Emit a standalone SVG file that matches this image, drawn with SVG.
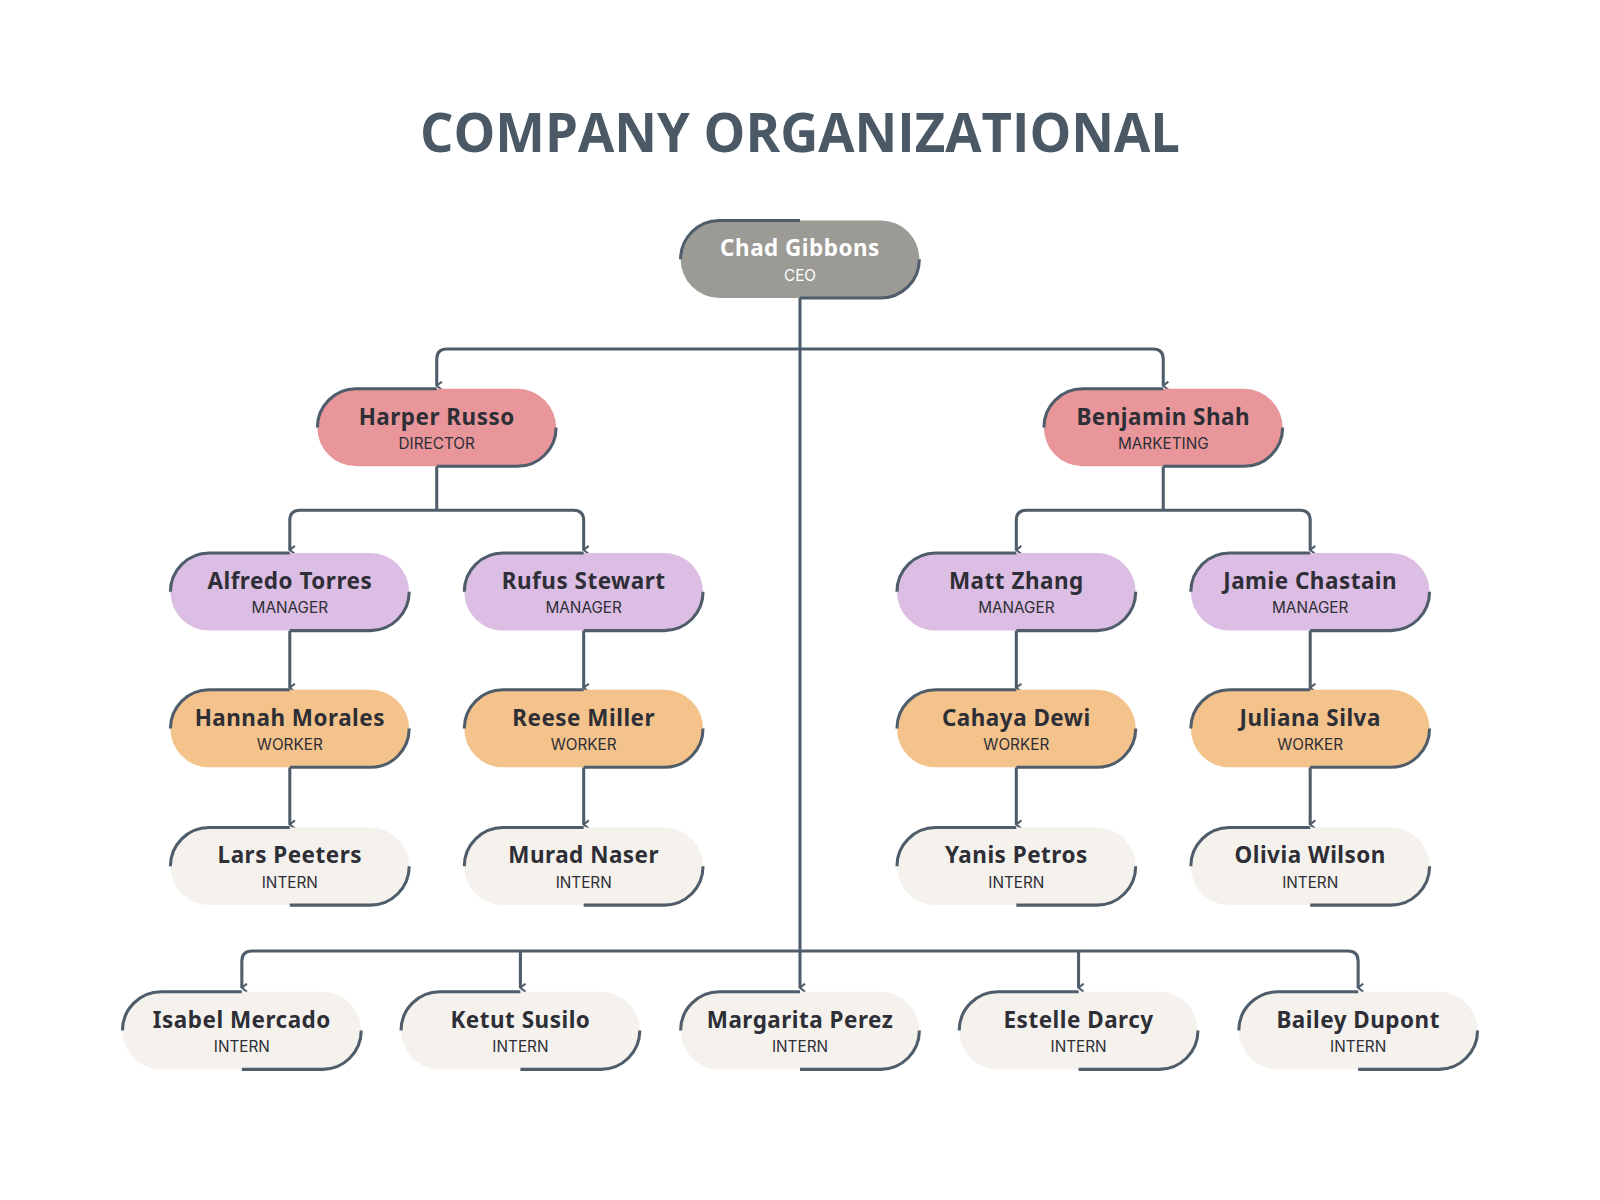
<svg xmlns="http://www.w3.org/2000/svg" width="1600" height="1200" viewBox="0 0 1600 1200">
<style>
.nm{font-family:"Noto Sans",sans-serif;font-weight:700;font-size:22px;fill:#2e2e36;text-anchor:middle;letter-spacing:0.5px}
.rl{font-family:Inter,"Liberation Sans",sans-serif;font-size:15px;fill:#2e2e36;text-anchor:middle}
.ol{fill:none;stroke:#4f5d6b;stroke-width:3}
.cn{fill:none;stroke:#4f5d6b;stroke-width:3;stroke-linejoin:round}
.ceo{fill:#9b9a94}.dir{fill:#e8969a}.mgr{fill:#dcbde3}.wrk{fill:#f4c38c}.int{fill:#f5f2ee}
</style>
<defs>
<marker id="ah" viewBox="0 0 10 10" refX="5" refY="8" markerWidth="10" markerHeight="10" markerUnits="userSpaceOnUse" orient="auto-start-reverse">
<path d="M1,3 L5,8 L9,3" fill="none" stroke="#4f5d6b" stroke-width="2"/>
</marker>
<g id="pill">
<path class="ol" d="M-117,0 A38,38 0 0 1 -79,-38 L0,-38"/>
<path class="ol" d="M0,38 L79,38 A38,38 0 0 0 117,0"/>
</g>
</defs>
<rect width="1600" height="1200" fill="#fff"/>
<g transform="scale(1.0204)">
<text x="784" y="149" font-family="Open Sans,Liberation Sans,sans-serif" font-weight="700" font-size="52" fill="#4b5865" text-anchor="middle" textLength="745" lengthAdjust="spacingAndGlyphs">COMPANY ORGANIZATIONAL</text>
<g id="connectors">
<path class="cn" d="M784,292 V968" marker-end="url(#ah)"/>
<path class="cn" d="M428,378 V352 Q428,342 438,342 H1130 Q1140,342 1140,352 V378" marker-start="url(#ah)" marker-end="url(#ah)"/>
<path class="cn" d="M428,457 V500"/>
<path class="cn" d="M284,539 V510 Q284,500 294,500 H562 Q572,500 572,510 V539" marker-start="url(#ah)" marker-end="url(#ah)"/>
<path class="cn" d="M1140,457 V500"/>
<path class="cn" d="M996,539 V510 Q996,500 1006,500 H1274 Q1284,500 1284,510 V539" marker-start="url(#ah)" marker-end="url(#ah)"/>
<path class="cn" d="M284,618 V674" marker-end="url(#ah)"/>
<path class="cn" d="M572,618 V674" marker-end="url(#ah)"/>
<path class="cn" d="M996,618 V674" marker-end="url(#ah)"/>
<path class="cn" d="M1284,618 V674" marker-end="url(#ah)"/>
<path class="cn" d="M284,752 V808" marker-end="url(#ah)"/>
<path class="cn" d="M572,752 V808" marker-end="url(#ah)"/>
<path class="cn" d="M996,752 V808" marker-end="url(#ah)"/>
<path class="cn" d="M1284,752 V808" marker-end="url(#ah)"/>
<path class="cn" d="M237,968 V942 Q237,932 247,932 H1321 Q1331,932 1331,942 V968" marker-start="url(#ah)" marker-end="url(#ah)"/>
<path class="cn" d="M510,932 V968" marker-end="url(#ah)"/>
<path class="cn" d="M1057,932 V968" marker-end="url(#ah)"/>
</g>
<g id="n-ceo" transform="translate(784,254)"><rect class="ceo" x="-117" y="-38" width="234" height="76" rx="38"/><use href="#pill"/><text class="nm" y="-3" fill="#fff" style="fill:#fff">Chad Gibbons</text><text class="rl" y="21" style="fill:#fff">CEO</text></g>
<g id="n-harper" transform="translate(428,419)"><rect class="dir" x="-117" y="-38" width="234" height="76" rx="38"/><use href="#pill"/><text class="nm" y="-3">Harper Russo</text><text class="rl" y="21">DIRECTOR</text></g>
<g id="n-benjamin" transform="translate(1140,419)"><rect class="dir" x="-117" y="-38" width="234" height="76" rx="38"/><use href="#pill"/><text class="nm" y="-3">Benjamin Shah</text><text class="rl" y="21">MARKETING</text></g>
<g id="n-alfredo" transform="translate(284,580)"><rect class="mgr" x="-117" y="-38" width="234" height="76" rx="38"/><use href="#pill"/><text class="nm" y="-3">Alfredo Torres</text><text class="rl" y="21">MANAGER</text></g>
<g id="n-rufus" transform="translate(572,580)"><rect class="mgr" x="-117" y="-38" width="234" height="76" rx="38"/><use href="#pill"/><text class="nm" y="-3">Rufus Stewart</text><text class="rl" y="21">MANAGER</text></g>
<g id="n-matt" transform="translate(996,580)"><rect class="mgr" x="-117" y="-38" width="234" height="76" rx="38"/><use href="#pill"/><text class="nm" y="-3">Matt Zhang</text><text class="rl" y="21">MANAGER</text></g>
<g id="n-jamie" transform="translate(1284,580)"><rect class="mgr" x="-117" y="-38" width="234" height="76" rx="38"/><use href="#pill"/><text class="nm" y="-3">Jamie Chastain</text><text class="rl" y="21">MANAGER</text></g>
<g id="n-hannah" transform="translate(284,714)"><rect class="wrk" x="-117" y="-38" width="234" height="76" rx="38"/><use href="#pill"/><text class="nm" y="-3">Hannah Morales</text><text class="rl" y="21">WORKER</text></g>
<g id="n-reese" transform="translate(572,714)"><rect class="wrk" x="-117" y="-38" width="234" height="76" rx="38"/><use href="#pill"/><text class="nm" y="-3">Reese Miller</text><text class="rl" y="21">WORKER</text></g>
<g id="n-cahaya" transform="translate(996,714)"><rect class="wrk" x="-117" y="-38" width="234" height="76" rx="38"/><use href="#pill"/><text class="nm" y="-3">Cahaya Dewi</text><text class="rl" y="21">WORKER</text></g>
<g id="n-juliana" transform="translate(1284,714)"><rect class="wrk" x="-117" y="-38" width="234" height="76" rx="38"/><use href="#pill"/><text class="nm" y="-3">Juliana Silva</text><text class="rl" y="21">WORKER</text></g>
<g id="n-lars" transform="translate(284,849)"><rect class="int" x="-117" y="-38" width="234" height="76" rx="38"/><use href="#pill"/><text class="nm" y="-3">Lars Peeters</text><text class="rl" y="21">INTERN</text></g>
<g id="n-murad" transform="translate(572,849)"><rect class="int" x="-117" y="-38" width="234" height="76" rx="38"/><use href="#pill"/><text class="nm" y="-3">Murad Naser</text><text class="rl" y="21">INTERN</text></g>
<g id="n-yanis" transform="translate(996,849)"><rect class="int" x="-117" y="-38" width="234" height="76" rx="38"/><use href="#pill"/><text class="nm" y="-3">Yanis Petros</text><text class="rl" y="21">INTERN</text></g>
<g id="n-olivia" transform="translate(1284,849)"><rect class="int" x="-117" y="-38" width="234" height="76" rx="38"/><use href="#pill"/><text class="nm" y="-3">Olivia Wilson</text><text class="rl" y="21">INTERN</text></g>
<g id="n-isabel" transform="translate(237,1010)"><rect class="int" x="-117" y="-38" width="234" height="76" rx="38"/><use href="#pill"/><text class="nm" y="-3">Isabel Mercado</text><text class="rl" y="21">INTERN</text></g>
<g id="n-ketut" transform="translate(510,1010)"><rect class="int" x="-117" y="-38" width="234" height="76" rx="38"/><use href="#pill"/><text class="nm" y="-3">Ketut Susilo</text><text class="rl" y="21">INTERN</text></g>
<g id="n-margarita" transform="translate(784,1010)"><rect class="int" x="-117" y="-38" width="234" height="76" rx="38"/><use href="#pill"/><text class="nm" y="-3">Margarita Perez</text><text class="rl" y="21">INTERN</text></g>
<g id="n-estelle" transform="translate(1057,1010)"><rect class="int" x="-117" y="-38" width="234" height="76" rx="38"/><use href="#pill"/><text class="nm" y="-3">Estelle Darcy</text><text class="rl" y="21">INTERN</text></g>
<g id="n-bailey" transform="translate(1331,1010)"><rect class="int" x="-117" y="-38" width="234" height="76" rx="38"/><use href="#pill"/><text class="nm" y="-3">Bailey Dupont</text><text class="rl" y="21">INTERN</text></g>
</g>
</svg>
